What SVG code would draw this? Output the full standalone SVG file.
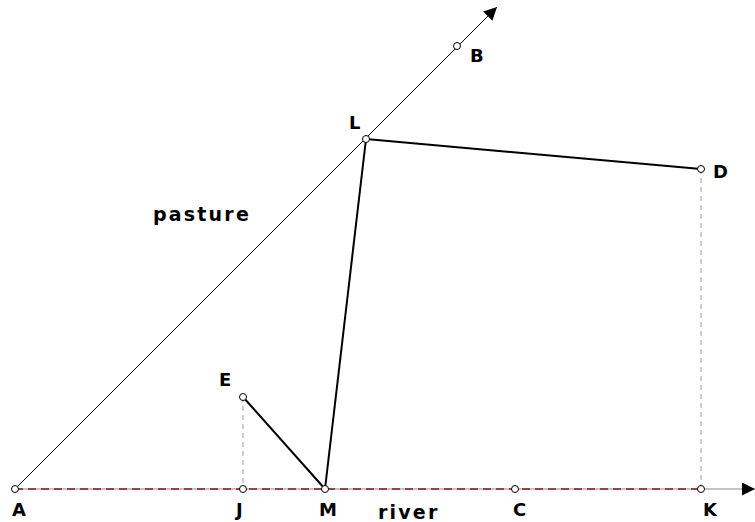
<svg xmlns="http://www.w3.org/2000/svg" width="755" height="522" viewBox="0 0 755 522">
<style>
.lbl{font-family:"DejaVu Sans",sans-serif;font-weight:bold;font-size:18px;fill:#000}
.word{font-family:"DejaVu Sans",sans-serif;font-weight:bold;font-size:19px;fill:#000;letter-spacing:2.2px}
.pt{fill:#fff;stroke:#000;stroke-width:1}
.thick{stroke:#000;stroke-width:2;fill:none}
.dash{stroke:#999;stroke-width:1;stroke-dasharray:5 4;fill:none}
</style>
<defs>
<marker id="arr" viewBox="0 0 10 10" refX="10" refY="5" markerWidth="18" markerHeight="13" markerUnits="userSpaceOnUse" orient="auto">
<path d="M0,0 L10,5 L0,10 z" fill="#000"/>
</marker>
</defs>
<g id="connectors">
<line x1="15" y1="489" x2="755" y2="489" stroke="#888" stroke-width="1" marker-end="url(#arr)"/>
<line x1="15" y1="489" x2="701" y2="489" stroke="#8b1a1a" stroke-width="1.3" stroke-dasharray="8 5"/>
<line x1="15" y1="489" x2="497" y2="7" stroke="#000" stroke-width="1" marker-end="url(#arr)"/>
<line class="dash" x1="243" y1="397" x2="243" y2="489"/>
<line class="dash" x1="701" y1="169" x2="701" y2="489"/>
<line class="thick" x1="366" y1="139" x2="701" y2="169"/>
<line class="thick" x1="366" y1="139" x2="325" y2="489"/>
<line class="thick" x1="243" y1="397" x2="325" y2="489"/>
</g>
<g id="A"><circle class="pt" cx="15" cy="489" r="3.5"/><text class="lbl" x="12" y="516">A</text></g>
<g id="J"><circle class="pt" cx="243" cy="489" r="3.5"/><text class="lbl" x="236" y="516">J</text></g>
<g id="M"><circle class="pt" cx="325" cy="489" r="3.5"/><text class="lbl" x="319" y="516">M</text></g>
<g id="C"><circle class="pt" cx="515" cy="489" r="3.5"/><text class="lbl" x="513" y="516">C</text></g>
<g id="K"><circle class="pt" cx="701" cy="489" r="3.5"/><text class="lbl" x="703" y="516">K</text></g>
<g id="B"><circle class="pt" cx="457" cy="46" r="3.5"/><text class="lbl" x="470" y="62">B</text></g>
<g id="L"><circle class="pt" cx="366" cy="139" r="3.5"/><text class="lbl" x="349" y="129">L</text></g>
<g id="D"><circle class="pt" cx="701" cy="169" r="3.5"/><text class="lbl" x="713" y="178">D</text></g>
<g id="E"><circle class="pt" cx="243" cy="397" r="3.5"/><text class="lbl" x="219" y="386">E</text></g>
<g id="pasture"><text class="word" x="153" y="221">pasture</text></g>
<g id="river"><text class="word" x="378" y="519">river</text></g>
</svg>
